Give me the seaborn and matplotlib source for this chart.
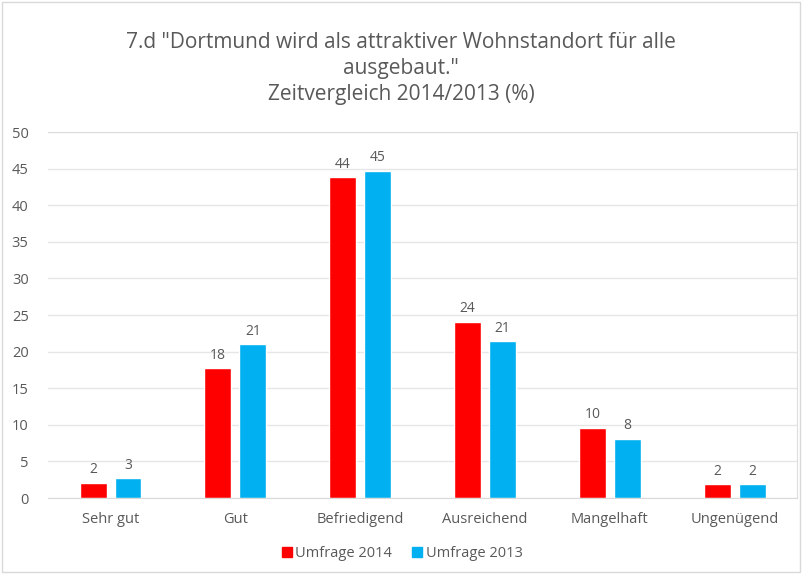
import matplotlib
matplotlib.use("Agg")
import matplotlib.pyplot as plt
import seaborn as sns
import pandas as pd
from matplotlib.patches import Rectangle

categories = ["Sehr gut", "Gut", "Befriedigend", "Ausreichend", "Mangelhaft", "Ungenügend"]
umfrage_2014 = [2.1, 17.7, 43.8, 24.1, 9.6, 1.9]
umfrage_2013 = [2.7, 21.0, 44.7, 21.4, 8.1, 1.9]
series_names = ["Umfrage 2014", "Umfrage 2013"]
colors = ["#FF0000", "#00B0F0"]

df = pd.DataFrame({
    "Kategorie": categories * 2,
    "Wert": umfrage_2014 + umfrage_2013,
    "Umfrage": [series_names[0]] * len(categories) + [series_names[1]] * len(categories),
})

sns.set_style("white")
plt.rcParams["font.family"] = ["Open Sans", "DejaVu Sans"]
text_col = "#595959"

fig = plt.figure(figsize=(8.02, 5.74), dpi=100)
ax = fig.add_axes([0.06, 0.1324, 0.934, 0.6376])

sns.barplot(data=df, x="Kategorie", y="Wert", hue="Umfrage", palette=colors,
            width=0.56, gap=0.23, ax=ax, legend=False, saturation=1)

for cont in ax.containers:
    ax.bar_label(cont, fmt="%.0f", padding=4, fontsize=10, color=text_col)

ax.set_ylim(0, 50)
ax.set_yticks(range(0, 51, 5))
ax.set_xlim(-0.5, len(categories) - 0.5)
ax.yaxis.grid(True, color="#E6E6E6", linewidth=1)
ax.set_axisbelow(True)
ax.set_xlabel("")
ax.set_ylabel("")
ax.tick_params(axis="both", length=0, labelsize=10.5, labelcolor=text_col)
ax.tick_params(axis="x", pad=10)
ax.tick_params(axis="y", pad=14)
for s in ["top", "right"]:
    ax.spines[s].set_color("#DDDDDD")
ax.spines["left"].set_visible(False)
ax.spines["bottom"].set_color("#D9D9D9")

fig.text(0.5, 0.945, '7.d "Dortmund wird als attraktiver Wohnstandort für alle\nausgebaut."\nZeitvergleich 2014/2013 (%)',
         ha="center", va="top", fontsize=15, color=text_col, linespacing=1.32)

handles = [plt.Line2D([], [], marker="s", linestyle="", color=c, markersize=7) for c in colors]
fig.legend(handles, series_names, loc="center", bbox_to_anchor=(0.5, 0.036), ncol=2,
           frameon=False, fontsize=10.5, labelcolor=text_col, handletextpad=0.1,
           columnspacing=1.2, handlelength=1.0)

fig.patches.append(Rectangle((0.003, 0.003), 0.994, 0.994, transform=fig.transFigure,
                             fill=False, edgecolor="#D9D9D9", linewidth=1))

fig.savefig("out.png", dpi=100)
